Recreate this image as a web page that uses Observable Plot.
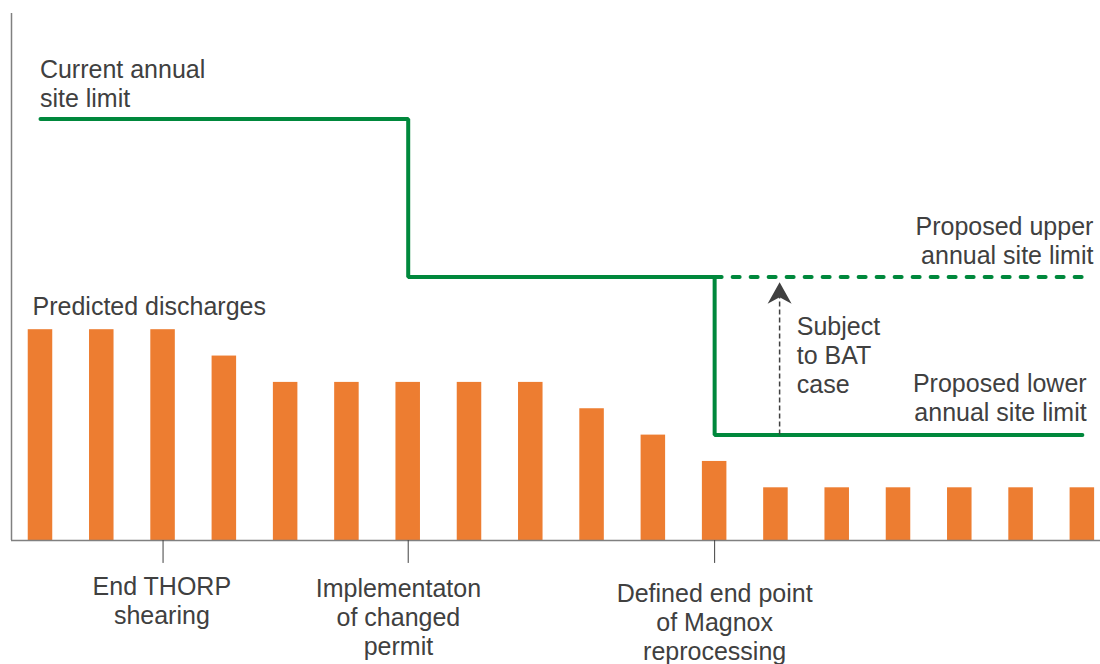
<!DOCTYPE html>
<html>
<head>
<meta charset="utf-8">
<script src="https://cdn.jsdelivr.net/npm/d3@7"></script>
<script src="https://cdn.jsdelivr.net/npm/@observablehq/plot@0.6"></script>
<style>
  html, body { margin: 0; padding: 0; background: #fff; }
</style>
</head>
<body>
<div id="chart"></div>
<script>
// ---- Data ----
const periods = d3.range(18);                       // 18 annual periods (bar index)
const discharges = [8, 8, 8, 7, 6, 6, 6, 6, 6, 5, 4, 3, 2, 2, 2, 2, 2, 2];
const currentLimit = 16;
const upperLimit = 10;
const lowerLimit = 4;
const permitChangeAt = 6;     // period where the current limit drops
const magnoxEndAt = 11;       // period where the proposed limits start
const milestoneIdx = [2, 6, 11];
const milestoneLabels = ["End THORP\nshearing", "Implementaton\nof changed\npermit", "Defined end point\nof Magnox\nreprocessing"];
const milestoneLabelY = [-3.15, -4.36, -4.55];
const milestoneLabelX = [1.98, 5.84, 11.0];

const bars = periods.map((i) => ({i, v: discharges[i]}));
const last = periods[periods.length - 1];
const limitLine = [
  {i: 0, v: currentLimit},
  {i: permitChangeAt, v: currentLimit},
  {i: permitChangeAt, v: upperLimit},
  {i: magnoxEndAt, v: upperLimit},
  {i: magnoxEndAt, v: lowerLimit},
  {i: last, v: lowerLimit}
];
const upperLine = [{i: magnoxEndAt, v: upperLimit}, {i: last, v: upperLimit}];
const milestones = milestoneIdx.map((i, k) => ({i, label: milestoneLabels[k], lx: milestoneLabelX[k], ly: milestoneLabelY[k]}));

// annotation anchors (data units)
const batX = 12.06;
const leftLabels = [
  {x: -0.01, y: 16.47, text: "Current annual\nsite limit"},
  {x: -0.13, y: 8.57, text: "Predicted discharges"},
  {x: 12.34, y: 5.58, text: "Subject\nto BAT\ncase"}
];
const rightLabels = [
  {x: 17.18, y: 10.5, text: "Proposed upper\nannual site limit"},
  {x: 17.07, y: 4.53, text: "Proposed lower\nannual site limit"}
];

const GREEN = "#00883c";
const ORANGE = "#ed7d31";
const TEXT = "#404040";
const AXIS = "#808080";
const FONT = "'Liberation Sans', Arial, Helvetica, sans-serif";

const xMin = -0.473, xMax = 17.296;

// stealth arrowhead symbol, tip at origin, pointing up
const arrowHead = {
  draw(context, size) {
    const s = Math.sqrt(size / Math.PI) / 12;
    context.moveTo(0, 0);
    context.lineTo(12 * s, 21.5 * s);
    context.lineTo(0, 15 * s);
    context.lineTo(-12 * s, 21.5 * s);
    context.closePath();
  }
};

const textStyle = {fontSize: 25, lineHeight: 1.16, fill: TEXT, fontFamily: FONT, lineAnchor: "bottom"};

const chart = Plot.plot({
  width: 1100,
  height: 664,
  marginLeft: 11,
  marginRight: 0,
  marginTop: 13,
  marginBottom: 124,
  style: {fontFamily: FONT, background: "#fff"},
  x: {domain: [xMin, xMax], axis: null},
  y: {domain: [0, 20], axis: null},
  marks: [
    // bars
    Plot.rectY(bars, {x1: (d) => d.i - 0.2, x2: (d) => d.i + 0.2, y1: 0, y2: "v", fill: ORANGE}),
    // axes lines
    Plot.ruleX([xMin], {y1: 0, y2: 20, stroke: AXIS, strokeWidth: 1.5}),
    Plot.ruleY([0], {x1: xMin, x2: xMax, stroke: AXIS, strokeWidth: 1.5}),
    // milestone ticks
    Plot.ruleX(milestones, {x: "i", y1: 0, y2: -0.87, stroke: TEXT, strokeWidth: 1}),
    // limit lines
    Plot.line(limitLine, {x: "i", y: "v", stroke: GREEN, strokeWidth: 4, strokeLinecap: "round", strokeLinejoin: "miter"}),
    Plot.line(upperLine, {x: "i", y: "v", stroke: GREEN, strokeWidth: 4, strokeDasharray: "7,11", strokeLinecap: "round"}),
    // BAT arrow
    Plot.ruleX([batX], {y1: lowerLimit, y2: 9.22, stroke: TEXT, strokeWidth: 1.5, strokeDasharray: "5,3"}),
    Plot.dot([{x: batX, y: 9.8}], {x: "x", y: "y", r: 12, symbol: arrowHead, fill: TEXT, stroke: "none"}),
    // labels
    Plot.text(leftLabels, {x: "x", y: "y", text: "text", textAnchor: "start", ...textStyle}),
    Plot.text(rightLabels, {x: "x", y: "y", text: "text", textAnchor: "end", ...textStyle}),
    Plot.text(milestones, {x: "lx", y: "ly", text: "label", textAnchor: "middle", ...textStyle})
  ]
});
document.getElementById("chart").appendChild(chart);
</script>
</body>
</html>
